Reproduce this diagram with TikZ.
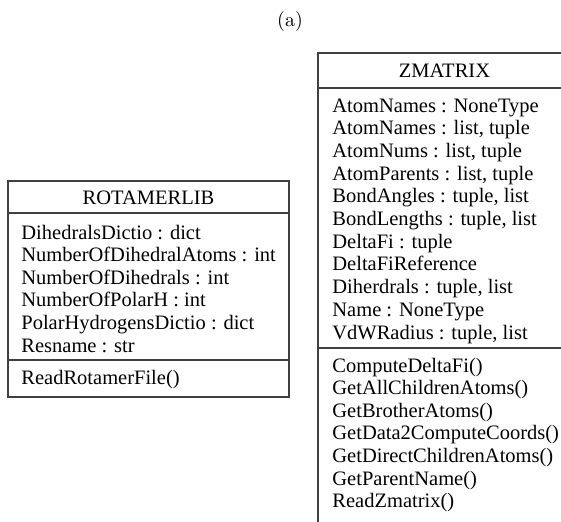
\documentclass[tikz,border=0pt]{standalone}
\usepackage{fontspec}
\newfontfamily\umlfont{Liberation Serif}
\begin{document}
\begin{tikzpicture}[x=0.5pt,y=-0.5pt,
  frame/.style={draw=black!75, line width=1pt},
  member/.style={anchor=base west, inner sep=0pt,
    font=\umlfont\fontsize{10.25}{12}\selectfont},
  classname/.style={anchor=base, inner sep=0pt,
    font=\umlfont\fontsize{10.25}{12}\selectfont}]
\useasboundingbox (0,0) rectangle (561,521);
\clip (0,0) rectangle (561,521);

% caption
\node[inner sep=0pt, font=\fontsize{10}{12}\selectfont] (caption) at (290,21) {(a)};

% ---------- class ROTAMERLIB ----------
\coordinate (rotNW) at (8,181);
\coordinate (rotSE) at (289,397);
\draw[frame] (rotNW) rectangle (rotSE);
\draw[frame] (8,213) -- (289,213);
\draw[frame] (8,360) -- (289,360);
\node[classname] (rotTitle) at (148.5,204) {ROTAMERLIB};
\foreach \t [count=\i from 0] in {
    {DihedralsDictio : dict},
    {NumberOfDihedralAtoms : int},
    {NumberOfDihedrals : int},
    {NumberOfPolarH : int},
    {PolarHydrogensDictio : dict},
    {Resname : str}}
  \node[member] (rotAttr\i) at (21,239+22.6*\i) {\t};
\node[member] (rotOp0) at (21,384) {ReadRotamerFile()};

% ---------- class ZMATRIX ----------
\coordinate (zmNW) at (318,53);
\coordinate (zmSE) at (571,560);
\draw[frame] (zmNW) rectangle (zmSE);
\draw[frame] (318,88) -- (571,88);
\draw[frame] (318,348) -- (571,348);
\node[classname] (zmTitle) at (444.5,77) {ZMATRIX};
\foreach \t [count=\i from 0] in {
    {AtomNames : NoneType},
    {AtomNames : list, tuple},
    {AtomNums : list, tuple},
    {AtomParents : list, tuple},
    {BondAngles : tuple, list},
    {BondLengths : tuple, list},
    {DeltaFi : tuple},
    {DeltaFiReference},
    {Diherdrals : tuple, list},
    {Name : NoneType},
    {VdWRadius : tuple, list}}
  \node[member] (zmAttr\i) at (332,112+22.7*\i) {\t};
\foreach \t [count=\i from 0] in {
    {ComputeDeltaFi()},
    {GetAllChildrenAtoms()},
    {GetBrotherAtoms()},
    {GetData2ComputeCoords()},
    {GetDirectChildrenAtoms()},
    {GetParentName()},
    {ReadZmatrix()}}
  \node[member] (zmOp\i) at (332,372+22.6*\i) {\t};
\end{tikzpicture}
\end{document}
